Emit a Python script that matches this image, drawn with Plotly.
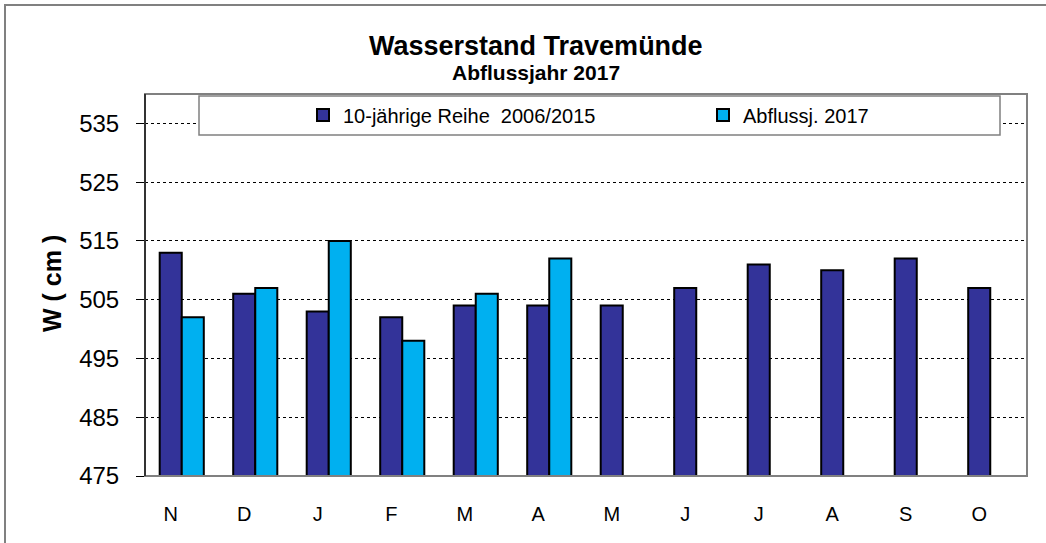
import plotly.graph_objects as go

months = ["N", "D", "J", "F", "M", "A", "M ", "J ", "J  ", "A ", "S", "O"]
tick_text = ["N", "D", "J", "F", "M", "A", "M", "J", "J", "A", "S", "O"]
reihe = [513, 506, 503, 502, 504, 504, 504, 507, 511, 510, 512, 507]
abfl = [502, 507, 515, 498, 506, 512, None, None, None, None, None, None]
y_ticks = [475, 485, 495, 505, 515, 525, 535]

FONT = "Arial, Liberation Sans, sans-serif"
# plot area in pixel coordinates
PL, PR, PT, PB = 145, 1027, 94, 476
W, H = 1046, 543
PW, PH = PR - PL, PB - PT


def px(x):
    return (x - PL) / PW


def py(y):
    return (PB - y) / PH


fig = go.Figure()
fig.add_trace(go.Bar(x=months, y=[v - 475 for v in reihe], base=475, name="10-jährige Reihe  2006/2015",
                     marker=dict(color="#333399", line=dict(color="black", width=2))))
fig.add_trace(go.Bar(x=months, y=[(v - 475) if v is not None else None for v in abfl], base=475,
                     name="Abflussj. 2017",
                     marker=dict(color="#00B0F0", line=dict(color="black", width=2))))

fig.update_layout(
    width=W, height=H,
    margin=dict(l=PL, r=W - PR, t=PT, b=H - PB, autoexpand=False),
    paper_bgcolor="white", plot_bgcolor="white",
    barmode="group", bargap=0.4, bargroupgap=0,
    font=dict(family=FONT, color="black"),
    showlegend=True,
    legend=dict(orientation="h", x=px(303), y=py(115), xanchor="left", yanchor="middle",
                bgcolor="rgba(0,0,0,0)", borderwidth=0, font=dict(size=20, family=FONT),
                entrywidth=355, entrywidthmode="pixels", itemclick=False, traceorder="normal"),
    xaxis=dict(tickmode="array", tickvals=months, ticktext=tick_text, showgrid=False,
               showline=False, ticks="", tickfont=dict(size=20), ticklabelstandoff=24,
               ticklabelshift=-11),
    yaxis=dict(range=[475, 540], tickvals=y_ticks, tickfont=dict(size=24),
               showgrid=True, gridcolor="black", griddash="dot", gridwidth=1,
               ticks="outside", ticklen=8, tickcolor="black", ticklabelstandoff=12,
               showline=False, zeroline=False),
    shapes=[
        dict(type="rect", xref="paper", yref="paper", x0=px(5), x1=px(1060), y0=py(560), y1=py(5),
             line=dict(color="#808080", width=2), fillcolor="rgba(0,0,0,0)", layer="below"),
        dict(type="rect", xref="paper", yref="paper", x0=0, x1=1, y0=0, y1=1,
             line=dict(color="#808080", width=2), fillcolor="rgba(0,0,0,0)", layer="above"),
        dict(type="line", xref="paper", yref="paper", x0=0, x1=0, y0=0, y1=1,
             line=dict(color="#333333", width=2), layer="above"),
        dict(type="rect", xref="paper", yref="paper", x0=px(199), x1=px(1000), y0=py(135), y1=py(96),
             line=dict(color="#808080", width=1.5), fillcolor="white", layer="above"),
    ],
    annotations=[
        dict(text="<b>Wasserstand Travemünde</b>", xref="paper", yref="paper", x=px(536), y=py(46),
             showarrow=False, font=dict(size=27, family=FONT), xanchor="center", yanchor="middle"),
        dict(text="<b>Abflussjahr 2017</b>", xref="paper", yref="paper", x=px(536), y=py(73),
             showarrow=False, font=dict(size=21, family=FONT), xanchor="center", yanchor="middle"),
        dict(text="<b>W ( cm )</b>", xref="paper", yref="paper", x=px(52), y=py(284),
             showarrow=False, textangle=-90, font=dict(size=25, family=FONT),
             xanchor="center", yanchor="middle"),
    ],
)

fig.write_html("out.html", config={"displayModeBar": False},
               post_script="document.body.style.margin='0';")
